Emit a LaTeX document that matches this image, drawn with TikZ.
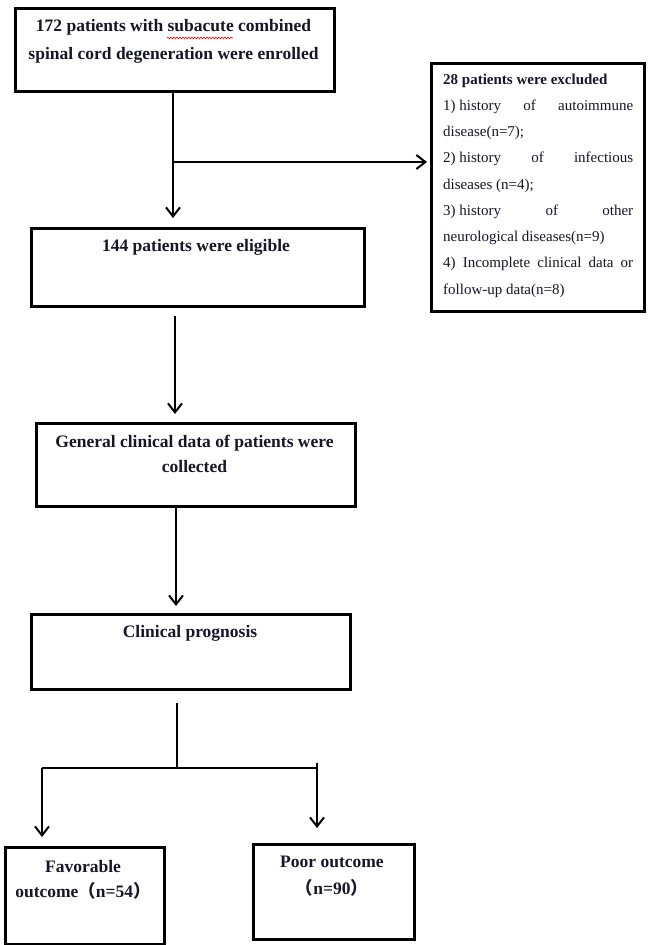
\documentclass[tikz,border=0pt]{standalone}
\usepackage{fontspec}
\setmainfont{Liberation Serif}
\newfontfamily\cjk{Noto Sans CJK SC}
\usetikzlibrary{arrows.meta,decorations.pathmorphing}
\definecolor{txt}{RGB}{22,22,40}
\begin{document}
\begin{tikzpicture}[x=1bp,y=-1bp,
  box/.style={draw=black,line width=2.5bp,rectangle,inner sep=0pt,anchor=north west},
  conn/.style={draw=black,line width=2bp},
  arr/.style={conn,-{Straight Barb[length=9bp,width=14bp]}},
  bigtext/.style={text=txt,inner sep=0pt,anchor=base,font=\bfseries\fontsize{17.5bp}{28bp}\selectfont},
  smalltext/.style={text=txt,inner sep=0pt,anchor=base west,font=\fontsize{15bp}{26.25bp}\selectfont}]
\useasboundingbox (0,0) rectangle (650,945);
\fill[white] (0,0) rectangle (650,945);
% boxes
\node[box,minimum width=319bp,minimum height=83bp] (b1) at (14,7) {};
\node[box,minimum width=213bp,minimum height=248bp] (ex) at (430,62) {};
\node[box,minimum width=333bp,minimum height=78bp] (b2) at (30,227) {};
\node[box,minimum width=319bp,minimum height=83bp] (b3) at (35,422) {};
\node[box,minimum width=319bp,minimum height=75bp] (b4) at (30,613) {};
\node[box,minimum width=159bp,minimum height=97bp] (fav) at (4,846) {};
\node[box,minimum width=161bp,minimum height=95bp] (poor) at (252,843) {};
% texts
\node[bigtext] (t1) at (173.5,31) {\parbox[t]{319bp}{\centering 172 patients with subacute combined\\spinal cord degeneration were enrolled}};
\draw[red,line width=0.6bp,decorate,decoration={snake,amplitude=0.9bp,segment length=3bp}] (167,38) -- (233,38);
\node[bigtext] (t2) at (196,251) {144 patients were eligible};
\node[bigtext,font=\bfseries\fontsize{17.5bp}{25bp}\selectfont] (t3) at (194.5,447) {\parbox[t]{319bp}{\centering General clinical data of patients were\\collected}};
\node[bigtext] (t4) at (190,637) {Clinical prognosis};
\node[bigtext,font=\bfseries\fontsize{17.5bp}{25bp}\selectfont] (t5) at (83,872) {\parbox[t]{159bp}{\centering Favorable\\outcome{\cjk （}n=54{\cjk ）}}};
\node[bigtext,font=\bfseries\fontsize{17.5bp}{27bp}\selectfont] (t6) at (332,867) {\parbox[t]{161bp}{\centering Poor outcome\\{\cjk （}n=90{\cjk ）}}};
\node[smalltext] (t7) at (443,84) {\parbox[t]{190bp}{%
\textbf{28 patients were excluded}\\
\hbox to 190bp{1) history\hfill of\hfill autoimmune}\\
disease(n=7);\\
\hbox to 190bp{2) history\hfill of\hfill infectious}\\
diseases (n=4);\\
\hbox to 190bp{3) history\hfill of\hfill other}\\
neurological diseases(n=9)\\
\hbox to 190bp{4)\hfill Incomplete\hfill clinical\hfill data\hfill or}\\
follow-up data(n=8)}};
% connectors
\coordinate (c1) at (173,162);
\coordinate (c2) at (175,0);
\coordinate (c3) at (176,0);
\coordinate (c4) at (177,0);
\coordinate (sp) at (177,768);
\coordinate (sl) at (42,768);
\coordinate (sr) at (317,768);
\coordinate (srt) at (317,763);
\draw[arr,shorten >=9bp] (b1.south -| c1) -- (b2.north -| c1);
\draw[arr,shorten >=3bp] (c1) -- (ex.west |- c1);
\draw[arr,shorten <=8bp,shorten >=8bp] (b2.south -| c2) -- (b3.north -| c2);
\draw[arr,shorten >=7bp] (b3.south -| c3) -- (b4.north -| c3);
\draw[conn,shorten <=12bp] (b4.south -| c4) -- (sp);
\draw[conn] (sl) -- (sr);
\draw[arr,shorten >=9bp] (sl) -- (fav.north -| sl);
\draw[arr,shorten >=15bp] (srt) -- (poor.north -| srt);
\end{tikzpicture}
\end{document}
